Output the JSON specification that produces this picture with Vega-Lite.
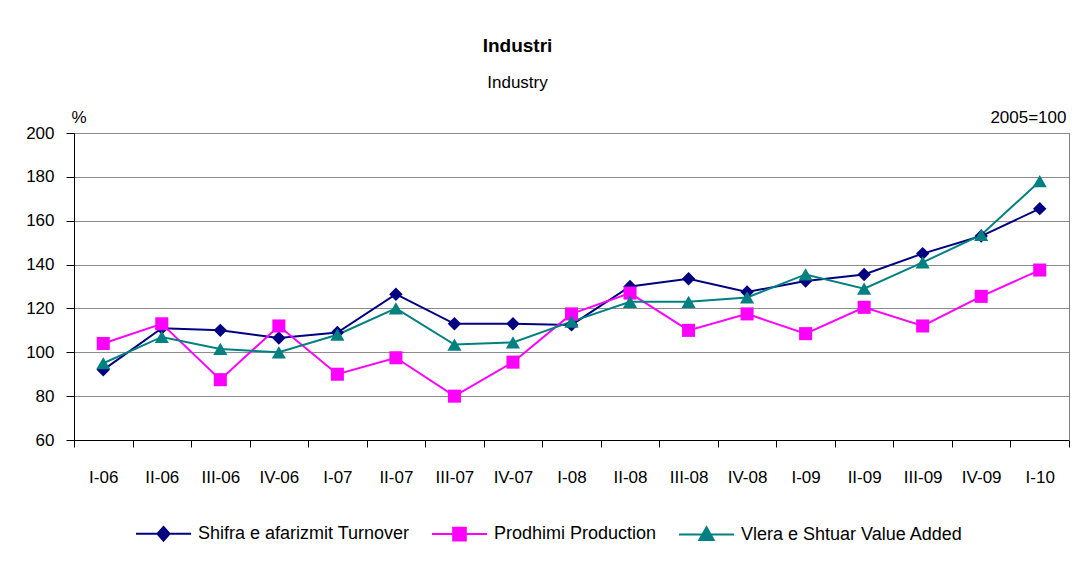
{
  "$schema": "https://vega.github.io/schema/vega-lite/v6.json",
  "autosize": {"type": "none"},
  "width": 995,
  "height": 307,
  "padding": {"left": 74, "top": 133, "right": 22, "bottom": 147},
  "background": "white",
  "config": {
    "font": "Liberation Sans",
    "view": {"stroke": "#555555", "strokeWidth": 1},
    "axis": {"labelFont": "Liberation Sans", "titleFont": "Liberation Sans", "labelColor": "black", "titleColor": "black"}
  },
  "title": {
    "text": "Industri",
    "subtitle": "Industry",
    "anchor": "middle",
    "dx": -54,
    "font": "Liberation Sans",
    "fontSize": 19,
    "fontWeight": "bold",
    "color": "black",
    "subtitleFont": "Liberation Sans",
    "subtitleFontSize": 17,
    "subtitleColor": "black",
    "subtitlePadding": 19,
    "offset": 17
  },
  "data": {
    "values": [
      {"q": "I-06", "series": "Shifra e afarizmit Turnover", "value": 92},
      {"q": "II-06", "series": "Shifra e afarizmit Turnover", "value": 111},
      {"q": "III-06", "series": "Shifra e afarizmit Turnover", "value": 110},
      {"q": "IV-06", "series": "Shifra e afarizmit Turnover", "value": 106.5},
      {"q": "I-07", "series": "Shifra e afarizmit Turnover", "value": 109},
      {"q": "II-07", "series": "Shifra e afarizmit Turnover", "value": 126.5},
      {"q": "III-07", "series": "Shifra e afarizmit Turnover", "value": 113},
      {"q": "IV-07", "series": "Shifra e afarizmit Turnover", "value": 113},
      {"q": "I-08", "series": "Shifra e afarizmit Turnover", "value": 112.5},
      {"q": "II-08", "series": "Shifra e afarizmit Turnover", "value": 130},
      {"q": "III-08", "series": "Shifra e afarizmit Turnover", "value": 133.5},
      {"q": "IV-08", "series": "Shifra e afarizmit Turnover", "value": 127.5},
      {"q": "I-09", "series": "Shifra e afarizmit Turnover", "value": 132.5},
      {"q": "II-09", "series": "Shifra e afarizmit Turnover", "value": 135.5},
      {"q": "III-09", "series": "Shifra e afarizmit Turnover", "value": 145},
      {"q": "IV-09", "series": "Shifra e afarizmit Turnover", "value": 153},
      {"q": "I-10", "series": "Shifra e afarizmit Turnover", "value": 165.5},
      {"q": "I-06", "series": "Prodhimi Production", "value": 104},
      {"q": "II-06", "series": "Prodhimi Production", "value": 113},
      {"q": "III-06", "series": "Prodhimi Production", "value": 87.5},
      {"q": "IV-06", "series": "Prodhimi Production", "value": 112},
      {"q": "I-07", "series": "Prodhimi Production", "value": 90},
      {"q": "II-07", "series": "Prodhimi Production", "value": 97.5},
      {"q": "III-07", "series": "Prodhimi Production", "value": 80},
      {"q": "IV-07", "series": "Prodhimi Production", "value": 95.5},
      {"q": "I-08", "series": "Prodhimi Production", "value": 117.5},
      {"q": "II-08", "series": "Prodhimi Production", "value": 127},
      {"q": "III-08", "series": "Prodhimi Production", "value": 110},
      {"q": "IV-08", "series": "Prodhimi Production", "value": 117.5},
      {"q": "I-09", "series": "Prodhimi Production", "value": 108.5},
      {"q": "II-09", "series": "Prodhimi Production", "value": 120.5},
      {"q": "III-09", "series": "Prodhimi Production", "value": 112},
      {"q": "IV-09", "series": "Prodhimi Production", "value": 125.5},
      {"q": "I-10", "series": "Prodhimi Production", "value": 137.5},
      {"q": "I-06", "series": "Vlera e Shtuar Value Added", "value": 95},
      {"q": "II-06", "series": "Vlera e Shtuar Value Added", "value": 107},
      {"q": "III-06", "series": "Vlera e Shtuar Value Added", "value": 101.5},
      {"q": "IV-06", "series": "Vlera e Shtuar Value Added", "value": 100},
      {"q": "I-07", "series": "Vlera e Shtuar Value Added", "value": 108},
      {"q": "II-07", "series": "Vlera e Shtuar Value Added", "value": 120},
      {"q": "III-07", "series": "Vlera e Shtuar Value Added", "value": 103.5},
      {"q": "IV-07", "series": "Vlera e Shtuar Value Added", "value": 104.5},
      {"q": "I-08", "series": "Vlera e Shtuar Value Added", "value": 114},
      {"q": "II-08", "series": "Vlera e Shtuar Value Added", "value": 123},
      {"q": "III-08", "series": "Vlera e Shtuar Value Added", "value": 123},
      {"q": "IV-08", "series": "Vlera e Shtuar Value Added", "value": 125},
      {"q": "I-09", "series": "Vlera e Shtuar Value Added", "value": 135.5},
      {"q": "II-09", "series": "Vlera e Shtuar Value Added", "value": 129},
      {"q": "III-09", "series": "Vlera e Shtuar Value Added", "value": 141},
      {"q": "IV-09", "series": "Vlera e Shtuar Value Added", "value": 153.5},
      {"q": "I-10", "series": "Vlera e Shtuar Value Added", "value": 178}
    ]
  },
  "encoding": {
    "x": {
      "field": "q",
      "type": "nominal",
      "sort": ["I-06","II-06","III-06","IV-06","I-07","II-07","III-07","IV-07","I-08","II-08","III-08","IV-08","I-09","II-09","III-09","IV-09","I-10"],
      "scale": {"paddingInner": 0, "paddingOuter": 0},
      "axis": {
        "title": null,
        "labelAngle": 0,
        "labelFontSize": 17,
        "labelPadding": 22,
        "tickBand": "extent",
        "tickSize": 7,
        "tickColor": "black",
        "domainColor": "black",
        "grid": false
      }
    },
    "y": {
      "field": "value",
      "type": "quantitative",
      "scale": {"domain": [60, 200], "nice": false, "zero": false},
      "axis": null
    }
  },
  "layer": [
    {
      "transform": [{"filter": "datum.series === 'Shifra e afarizmit Turnover'"}],
      "mark": {"type": "line", "strokeWidth": 2, "color": "#000080"},
      "encoding": {
        "y": {
          "field": "value",
          "type": "quantitative",
          "axis": {
            "title": "%",
            "titleAngle": 0,
            "titleAlign": "left",
            "titleBaseline": "alphabetic",
            "titleX": -3,
            "titleY": -11,
            "titleFontSize": 17,
            "titleFontWeight": "normal",
            "values": [60, 80, 100, 120, 140, 160, 180, 200],
            "labelFontSize": 17,
            "labelPadding": 12,
            "tickSize": 8,
            "tickColor": "black",
            "domainColor": "black",
            "grid": true,
            "gridColor": "#8c8c8c",
            "gridWidth": 1
          }
        }
      }
    },
    {
      "transform": [{"filter": "datum.series === 'Prodhimi Production'"}],
      "mark": {"type": "line", "strokeWidth": 2, "color": "#FF00FF"}
    },
    {
      "transform": [{"filter": "datum.series === 'Vlera e Shtuar Value Added'"}],
      "mark": {"type": "line", "strokeWidth": 2, "color": "#008080"}
    },
    {
      "transform": [{"filter": "datum.series === 'Shifra e afarizmit Turnover'"}],
      "mark": {"type": "point", "shape": "diamond", "filled": true, "opacity": 1, "size": 180, "color": "#000080"},
      "encoding": {
        "y": {
          "field": "value",
          "type": "quantitative",
          "axis": {
            "orient": "right",
            "title": "2005=100",
            "titleAngle": 0,
            "titleAlign": "right",
            "titleBaseline": "alphabetic",
            "titleX": -3,
            "titleY": -11,
            "titleFontSize": 17,
            "titleFontWeight": "normal",
            "labels": false,
            "ticks": false,
            "grid": false,
            "domainColor": "#808080"
          }
        }
      }
    },
    {
      "transform": [{"filter": "datum.series === 'Prodhimi Production'"}],
      "mark": {"type": "point", "shape": "square", "filled": true, "opacity": 1, "size": 170, "color": "#FF00FF"}
    },
    {
      "transform": [{"filter": "datum.series === 'Vlera e Shtuar Value Added'"}],
      "mark": {"type": "point", "shape": "triangle-up", "filled": true, "opacity": 1, "size": 200, "color": "#008080"}
    },
    {
      "mark": {"type": "point", "filled": true, "size": 0, "opacity": 1},
      "encoding": {
        "color": {
          "field": "series",
          "type": "nominal",
          "sort": ["Shifra e afarizmit Turnover", "Prodhimi Production", "Vlera e Shtuar Value Added"],
          "scale": {
            "domain": ["Shifra e afarizmit Turnover", "Prodhimi Production", "Vlera e Shtuar Value Added"],
            "range": ["#000080", "#FF00FF", "#008080"]
          },
          "legend": {
            "title": null,
            "orient": "none",
            "direction": "horizontal",
            "legendX": 61,
            "legendY": 372,
            "padding": 0,
            "symbolSize": 3025,
            "symbolStrokeWidth": 2,
            "symbolOpacity": 1,
            "labelFontSize": 18,
            "labelFont": "Liberation Sans",
            "labelColor": "black",
            "labelOffset": 6,
            "columnPadding": 18,
            "labelLimit": 400
          }
        },
        "stroke": {
          "field": "series",
          "type": "nominal",
          "sort": ["Shifra e afarizmit Turnover", "Prodhimi Production", "Vlera e Shtuar Value Added"],
          "scale": {
            "domain": ["Shifra e afarizmit Turnover", "Prodhimi Production", "Vlera e Shtuar Value Added"],
            "range": ["#000080", "#FF00FF", "#008080"]
          },
          "legend": {
            "title": null,
            "orient": "none",
            "direction": "horizontal",
            "legendX": 61,
            "legendY": 372,
            "padding": 0,
            "symbolSize": 3025,
            "symbolStrokeWidth": 2,
            "symbolOpacity": 1,
            "labelFontSize": 18,
            "labelFont": "Liberation Sans",
            "labelColor": "black",
            "labelOffset": 6,
            "columnPadding": 18,
            "labelLimit": 400
          }
        },
        "shape": {
          "field": "series",
          "type": "nominal",
          "sort": ["Shifra e afarizmit Turnover", "Prodhimi Production", "Vlera e Shtuar Value Added"],
          "scale": {
            "domain": ["Shifra e afarizmit Turnover", "Prodhimi Production", "Vlera e Shtuar Value Added"],
            "range": ["M-1,0H1M0,-0.25L0.22,0L0,0.25L-0.22,0Z", "M-1,0H1M-0.23,-0.23H0.23V0.23H-0.23Z", "M-1,0H1M0,-0.26L0.26,0.2H-0.26Z"]
          },
          "legend": {
            "title": null,
            "orient": "none",
            "direction": "horizontal",
            "legendX": 61,
            "legendY": 372,
            "padding": 0,
            "symbolSize": 3025,
            "symbolStrokeWidth": 2,
            "symbolOpacity": 1,
            "labelFontSize": 18,
            "labelFont": "Liberation Sans",
            "labelColor": "black",
            "labelOffset": 6,
            "columnPadding": 18,
            "labelLimit": 400
          }
        }
      }
    }
  ],
  "resolve": {"axis": {"y": "independent"}}
}
